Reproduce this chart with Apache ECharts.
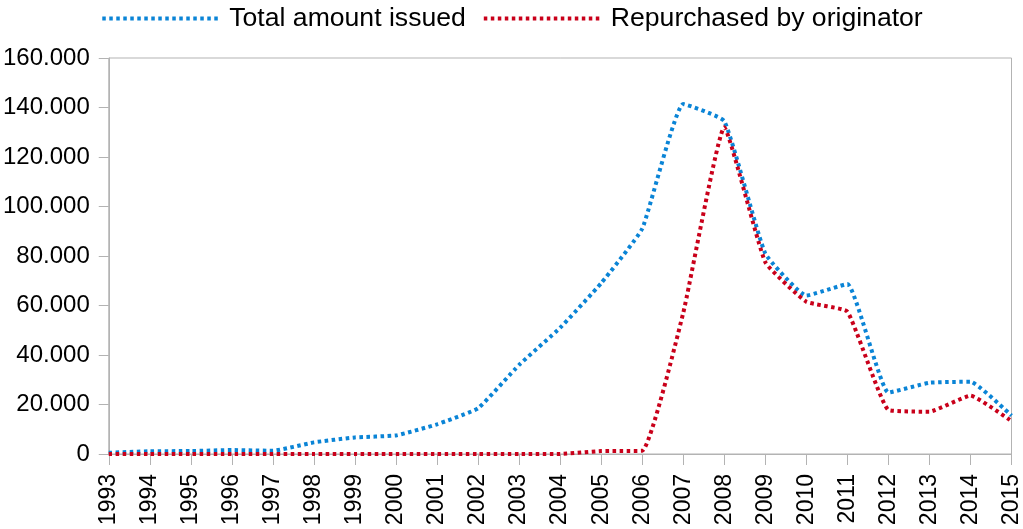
<!DOCTYPE html>
<html>
<head>
<meta charset="utf-8">
<script src="https://cdn.jsdelivr.net/npm/echarts@6/dist/echarts.min.js"></script>
<style>
html,body{margin:0;padding:0;background:#fff;}
#c{width:1023px;height:529px;}
</style>
</head>
<body>
<div id="c"></div>
<script>
var years = ['1993','1994','1995','1996','1997','1998','1999','2000','2001','2002','2003','2004','2005','2006','2007','2008','2009','2010','2011','2012','2013','2014','2015'];
var totalIssued = [500,1100,1200,1600,1300,4700,6700,7500,12000,18500,36000,51000,69000,91000,141400,134500,81000,64000,68700,24800,28800,29200,15500];
var repurchased = [0,0,0,0,0,0,0,0,0,0,0,0,1200,1300,57000,132000,77500,61500,57500,17800,17100,23600,13300];
var yTicks = [0,20000,40000,60000,80000,100000,120000,140000,160000];

var font = 'Liberation Sans, Arial, sans-serif';
var gray = '#b3b3b3';
function fmt(v){
  if (v === 0) return '0';
  return String(v).replace(/\B(?=(\d{3})+(?!\d))/g, '.');
}
var chart = echarts.init(document.getElementById('c'));
chart.setOption({
  animation: false,
  backgroundColor: '#fff',
  legend: {
    top: 0,
    left: 'center',
    itemWidth: 118,
    itemHeight: 28,
    itemGap: 16,
    textStyle: {fontFamily: font, fontSize: 26.6, color: '#000', padding: [0, 0, 0, 4]},
    itemStyle: {opacity: 0},
    lineStyle: {width: 4, type: [3.5, 3.5]},
    data: ['Total amount issued', 'Repurchased by originator']
  },
  grid: {
    left: 108, right: 8, top: 58, bottom: 75,
    show: true, borderColor: gray, borderWidth: 1
  },
  xAxis: {
    type: 'category',
    data: years,
    boundaryGap: false,
    axisLine: {lineStyle: {color: gray}},
    axisTick: {show: true, length: 11, lineStyle: {color: gray}},
    axisLabel: {rotate: 90, margin: 20, fontFamily: font, fontSize: 23, color: '#000', interval: 0}
  },
  yAxis: {
    type: 'value',
    min: 0, max: 160000, interval: 20000,
    axisLine: {show: true, lineStyle: {color: gray}},
    axisTick: {show: true, length: 10, lineStyle: {color: gray}},
    splitLine: {show: false},
    axisLabel: {margin: 19, fontFamily: font, fontSize: 24, color: '#000', formatter: fmt}
  },
  series: [
    {
      name: 'Total amount issued', type: 'line', data: totalIssued,
      symbol: 'none', smooth: 0.12,
      itemStyle: {color: '#0a84d6'},
      lineStyle: {color: '#0a84d6', width: 4, type: [3.5, 3.5]},
      z: 2
    },
    {
      name: 'Repurchased by originator', type: 'line', data: repurchased,
      symbol: 'none', smooth: 0.12,
      itemStyle: {color: '#c9001a'},
      lineStyle: {color: '#c9001a', width: 4, type: [3.5, 3.5]},
      z: 3
    }
  ]
});
</script>
</body>
</html>
